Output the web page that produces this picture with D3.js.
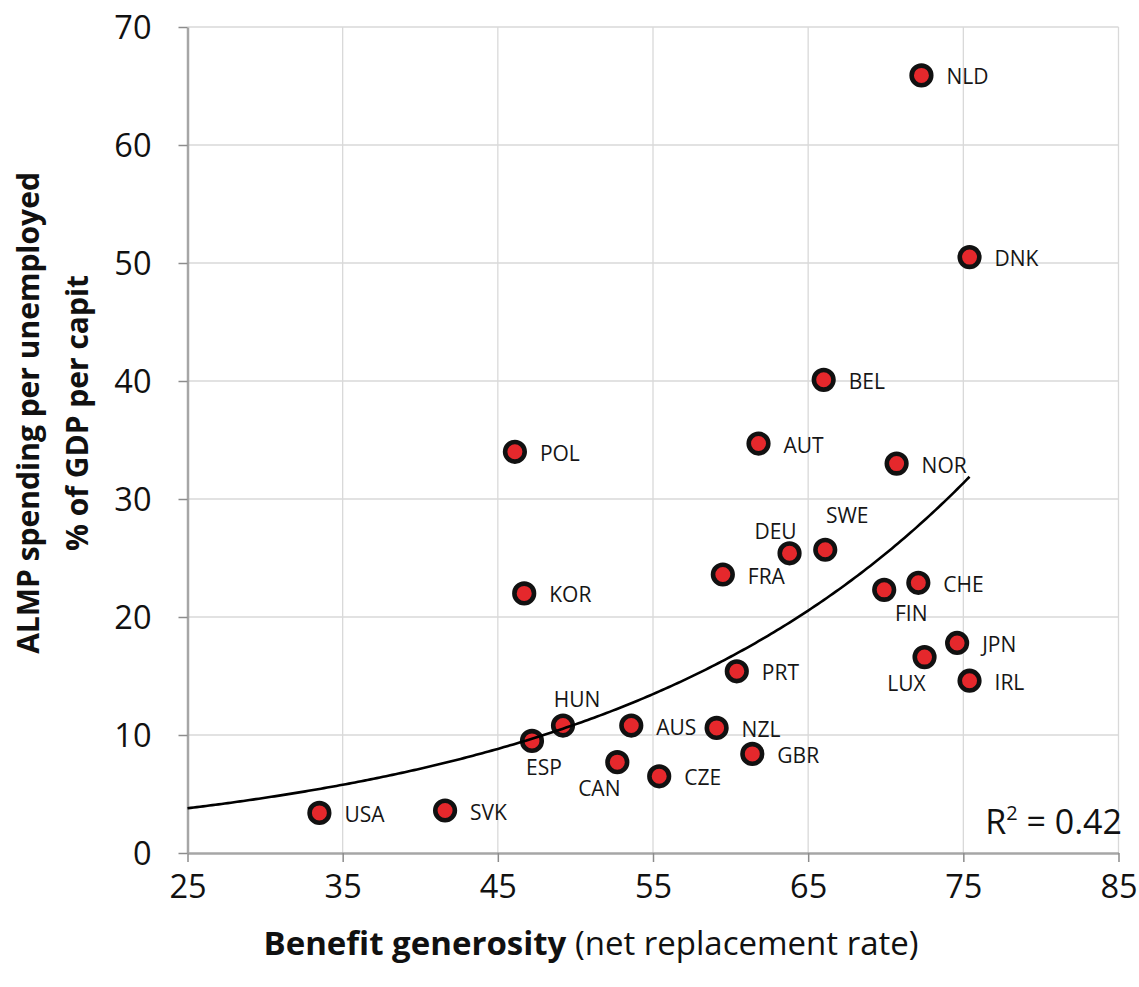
<!DOCTYPE html>
<html><head><meta charset="utf-8">
<script src="https://cdn.jsdelivr.net/npm/d3@7"></script>
<style>body{margin:0;background:#fff}svg{display:block}</style>
</head><body><svg id="c" width="1139" height="987"></svg>
<script>
// ---- data ----
const countries  = ["NLD","DNK","BEL","AUT","POL","NOR","SWE","DEU","FRA","CHE","FIN","KOR","JPN","LUX","IRL","PRT","HUN","AUS","NZL","ESP","GBR","CAN","CZE","USA","SVK"];
const generosity = [72.3,75.4,66.0,61.8,46.1,70.7,66.1,63.8,59.5,72.1,69.9,46.7,74.6,72.5,75.4,60.4,49.2,53.6,59.1,47.2,61.4,52.7,55.4,33.5,41.6];
const almp       = [65.9,50.5,40.1,34.7,34.0,33.0,25.7,25.4,23.6,22.9,22.3,22.0,17.8,16.6,14.6,15.4,10.8,10.8,10.6,9.5,8.4,7.7,6.5,3.4,3.6];
const xTicks = [25,35,45,55,65,75,85];
const yTicks = [0,10,20,30,40,50,60,70];
const trendA = 1.3175, trendB = 0.04226;   // exponential trendline y = a*e^(b*x)
const trendRange = [25, 75.4];
const rSquared = "0.42";
const labelSide = {SWE:"above", DEU:"aboveLeft", FIN:"belowRight", LUX:"belowLeft", HUN:"aboveRight", ESP:"below", CAN:"belowLeft"};

// ---- layout ----
const svg = d3.select("#c");
const FONT = "'Open Sans', 'Liberation Sans', sans-serif";
const x = d3.scaleLinear().domain([25,85]).range([187.5,1118.5]);
const y = d3.scaleLinear().domain([0,70]).range([853,27]);

// gridlines
svg.append("g").selectAll("line").data(yTicks.filter(d=>d>0)).join("line")
  .attr("x1",x(25)).attr("x2",x(85)).attr("y1",d=>y(d)).attr("y2",d=>y(d))
  .attr("stroke","#d9d9d9").attr("stroke-width",1.3);
svg.append("g").selectAll("line").data(xTicks.filter(d=>d>25)).join("line")
  .attr("y1",y(0)).attr("y2",y(70)).attr("x1",d=>x(d)).attr("x2",d=>x(d))
  .attr("stroke","#d9d9d9").attr("stroke-width",1.3);

// axes
const xAxis = svg.append("g").attr("transform",`translate(0,${y(0)})`)
  .call(d3.axisBottom(x).tickValues(xTicks).tickSize(9).tickPadding(13).tickSizeOuter(0));
const yAxis = svg.append("g").attr("transform",`translate(${x(25)},0)`)
  .call(d3.axisLeft(y).tickValues(yTicks).tickSize(9).tickPadding(27).tickSizeOuter(0));
[xAxis,yAxis].forEach(g=>{
  g.select(".domain").attr("stroke","#a6a6a6").attr("stroke-width",2.5);
  g.selectAll(".tick line").attr("stroke","#8c8c8c").attr("stroke-width",1.5);
  g.selectAll(".tick text").attr("font-family",FONT).attr("font-size",32.5).attr("fill","#111");
});
xAxis.selectAll(".tick text").attr("dy","0.71em");
yAxis.selectAll(".tick text").attr("dy","0.35em");

// points
const pts = countries.map((c,i)=>({c, gx:generosity[i], gy:almp[i]}));
svg.append("g").selectAll("circle").data(pts).join("circle")
  .attr("cx",d=>x(d.gx)).attr("cy",d=>y(d.gy)).attr("r",9.8)
  .attr("fill","#e5282c").attr("stroke","#111").attr("stroke-width",4.6);

// trendline
const tx = d3.range(trendRange[0], trendRange[1]+0.001, 0.2);
if (tx[tx.length-1] < trendRange[1]) tx.push(trendRange[1]);
svg.append("path").datum(tx)
  .attr("d", d3.line().x(d=>x(d)).y(d=>y(trendA*Math.exp(trendB*d))))
  .attr("fill","none").attr("stroke","#000").attr("stroke-width",2.6);

// labels
const off = {
  right:      {a:"start",  dx:25,  dy:9},
  above:      {a:"middle", dx:22,  dy:-27},
  aboveLeft:  {a:"middle", dx:-14, dy:-14},
  belowRight: {a:"middle", dx:27,  dy:31},
  belowLeft:  {a:"middle", dx:-18, dy:34},
  aboveRight: {a:"middle", dx:14,  dy:-19},
  below:      {a:"middle", dx:12,  dy:34}
};
svg.append("g").selectAll("text").data(pts).join("text")
  .each(function(d){
    const o = off[labelSide[d.c]||"right"];
    d3.select(this).attr("x",x(d.gx)+o.dx).attr("y",y(d.gy)+o.dy).attr("text-anchor",o.a);
  })
  .attr("font-family",FONT).attr("font-size",21).attr("fill","#161616").text(d=>d.c);

// R squared
const r2 = svg.append("text").attr("x",1122).attr("y",834).attr("text-anchor","end")
  .attr("font-family",FONT).attr("font-size",34).attr("fill","#111");
r2.append("tspan").text("R");
r2.append("tspan").attr("font-size",20).attr("dy",-14).text("2");
r2.append("tspan").attr("dy",14).text(" = " + rSquared);

// axis titles
const xt = svg.append("text").attr("x",591).attr("y",955).attr("text-anchor","middle")
  .attr("font-family",FONT).attr("font-size",33).attr("fill","#111");
xt.append("tspan").attr("font-weight","bold").text("Benefit generosity");
xt.append("tspan").text(" (net replacement rate)");

const yt = svg.append("text").attr("transform","translate(39,413) rotate(-90)")
  .attr("text-anchor","middle").attr("font-family",FONT).attr("font-size",30)
  .attr("font-weight","bold").attr("fill","#111");
yt.append("tspan").attr("x",0).attr("y",0).text("ALMP spending per unemployed");
yt.append("tspan").attr("x",0).attr("y",49).text("% of GDP per capit");
</script></body></html>
